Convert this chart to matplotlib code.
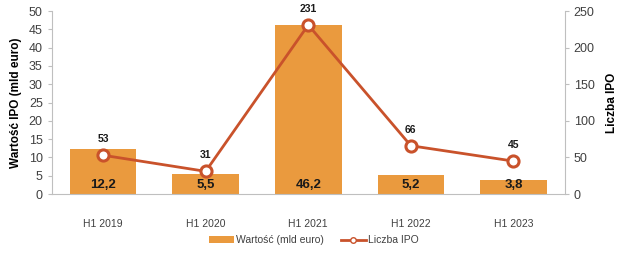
import matplotlib.pyplot as plt
import numpy as np
from matplotlib.lines import Line2D

plt.rcParams['font.family'] = ['Liberation Sans', 'DejaVu Sans']

periods = ['H1 2019', 'H1 2020', 'H1 2021', 'H1 2022', 'H1 2023']
value_bn = [12.2, 5.5, 46.2, 5.2, 3.8]
ipo_count = [53, 31, 231, 66, 45]

bar_color = '#EA9A3E'
line_color = '#C9522B'
grey = '#BFBFBF'

fig = plt.figure(figsize=(6.24, 2.57), dpi=100)
ax = fig.add_axes([0.083, 0.245, 0.822, 0.712])
ax2 = ax.twinx()

x = np.arange(len(periods))
ax.bar(x, value_bn, width=0.65, color=bar_color, label='Wartość (mld euro)', zorder=2)
for xi, v in zip(x, value_bn):
    ax.text(xi, 2.5, f'{v:.1f}'.replace('.', ','), ha='center', va='center',
            fontsize=9.5, fontweight='bold', color='#1a1a1a', zorder=3)

ax2.plot(x, ipo_count, color=line_color, lw=2, marker='o', ms=8,
         mfc='white', mec=line_color, mew=2.2, label='Liczba IPO', zorder=4)
for xi, n in zip(x, ipo_count):
    ax2.annotate(str(n), (xi, n), xytext=(0, 8), textcoords='offset points',
                 ha='center', va='bottom', fontsize=7.5, fontweight='bold', color='#1a1a1a')

ax.set_xlim(-0.5, len(periods) - 0.5)
ax.set_ylim(0, 50)
ax.set_yticks(np.arange(0, 51, 5))
ax2.set_ylim(0, 250)
ax2.set_yticks(np.arange(0, 251, 50))

ax.set_xticks(x)
ax.set_xticklabels(periods, fontsize=7.5, color='#404040')
ax.tick_params(axis='x', length=0, pad=18)
ax.tick_params(axis='y', labelsize=9, colors='#404040', length=3, color=grey)
ax2.tick_params(axis='y', labelsize=9, colors='#404040', length=3, color=grey)

ax.set_ylabel('Wartość IPO (mld euro)', fontsize=8.5, fontweight='bold', labelpad=5)
ax2.set_ylabel('Liczba IPO', fontsize=8.5, fontweight='bold', labelpad=8)

for a in (ax, ax2):
    a.spines['top'].set_visible(False)
    for s in ('left', 'right', 'bottom'):
        a.spines[s].set_color(grey)
ax.spines['right'].set_visible(False)
ax2.spines['left'].set_visible(False)
ax2.spines['bottom'].set_visible(False)

h1, l1 = ax.get_legend_handles_labels()
h2 = [Line2D([0], [0], color=line_color, lw=2, marker='o', ms=4, mfc='white', mec=line_color)]
fig.legend(h1 + h2, l1 + ['Liczba IPO'], loc='center', bbox_to_anchor=(0.503, 0.065), ncol=2,
           frameon=False, fontsize=7.5, handlelength=2.4, handletextpad=0.2, columnspacing=1.6,
           labelcolor='#404040')

fig.savefig('out.png', dpi=100)
